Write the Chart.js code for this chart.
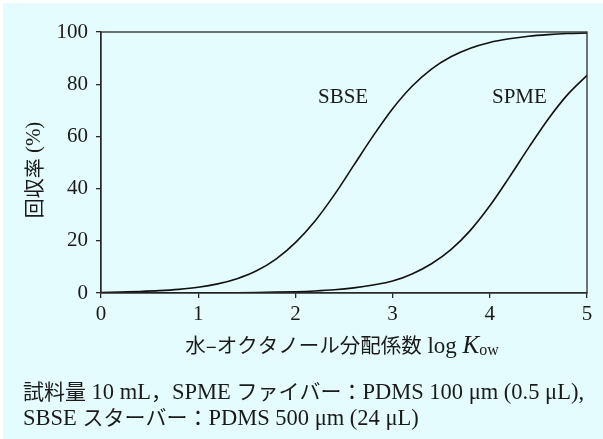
<!DOCTYPE html>
<html>
<head>
<meta charset="utf-8">
<script src="https://cdn.jsdelivr.net/npm/chart.js@4.4.0/dist/chart.umd.min.js"></script>
<style>
  html, body { margin: 0; padding: 0; background: #fff; }
  #wrap { width: 603px; height: 439px; }
</style>
</head>
<body>
<div id="wrap"><canvas id="chart" width="603" height="439"></canvas></div>
<script>
// log Kow values along the x axis
const logKow = [0, 0.2, 0.4, 0.6, 0.8, 1.0, 1.2, 1.4, 1.6, 1.8, 2.0, 2.2, 2.4,
                2.6, 2.8, 3.0, 3.2, 3.4, 3.6, 3.8, 4.0, 4.2, 4.4, 4.6, 4.8, 5.0];
// recovery (%)
const sbseRecovery = [0.2, 0.4, 0.6, 0.9, 1.4, 2.2, 3.5, 5.5, 8.5, 13, 19.3, 27.5, 37.6,
                      48.9, 60.2, 70.6, 79.2, 85.8, 90.5, 93.8, 96, 97.4, 98.4, 99, 99.4, 99.6];
const spmeRecovery = [0, 0, 0, 0, 0, 0.05, 0.08, 0.12, 0.2, 0.32, 0.5, 0.79, 1.24,
                      1.96, 3.07, 4.6, 7.3, 11.2, 16.6, 24, 33.4, 44.3, 55.7, 66.6, 76, 83.4];
const xTickStep = 1;
const yTickStep = 10;
const yLabelEvery = 20;

const serif = '"Liberation Serif", "DejaVu Serif", serif';
const cjk = '"Noto Sans CJK JP", sans-serif';
const ink = '#1a1a1a';
const cjkRe = /[\u2010-\u2015\u3000-\u30ff\u4e00-\u9fff\uff00-\uffef]/;

function toPoints(ys) {
    return logKow.map((x, i) => ({ x: x, y: ys[i] }));
}

// split text into latin / japanese runs so each gets its own font
function runs(text) {
    const out = [];
    for (const ch of text) {
        const isCjk = cjkRe.test(ch);
        const last = out[out.length - 1];
        if (last && last.cjk === isCjk) last.t += ch;
        else out.push({ t: ch, cjk: isCjk });
    }
    return out;
}

function mixedWidth(ctx, text, latinFont, cjkFont) {
    let w = 0;
    runs(text).forEach(r => {
        ctx.font = r.cjk ? cjkFont : latinFont;
        w += ctx.measureText(r.t).width;
    });
    return w;
}

function drawMixed(ctx, text, x, y, latinFont, cjkFont) {
    ctx.textAlign = 'left';
    runs(text).forEach(r => {
        ctx.font = r.cjk ? cjkFont : latinFont;
        ctx.fillText(r.t, x, y);
        x += ctx.measureText(r.t).width;
    });
    return x;
}

const decor = {
    id: 'decor',
    beforeDraw(chart) {
        const ctx = chart.ctx;
        ctx.save();
        ctx.fillStyle = '#e4fcfd';
        ctx.fillRect(3, 3, chart.width - 3, chart.height - 3);
        ctx.restore();
    },
    afterDraw(chart) {
        const ctx = chart.ctx;
        const a = chart.chartArea;
        ctx.save();
        // frame around the plot
        ctx.strokeStyle = '#2a2a2a';
        ctx.lineWidth = 1.3;
        ctx.strokeRect(a.left, a.top, a.right - a.left, a.bottom - a.top);

        ctx.fillStyle = ink;
        ctx.textBaseline = 'alphabetic';

        // curve labels
        ctx.font = '21px ' + serif;
        ctx.textAlign = 'left';
        ctx.fillText('SBSE', 318, 103);
        ctx.fillText('SPME', 492, 103);

        // x axis title with italic K and subscript
        const p1 = '水–オクタノール分配係数 log ';
        const latT = '23px ' + serif, cjkT = '20.5px ' + cjk;
        const w1 = mixedWidth(ctx, p1, latT, cjkT);
        ctx.font = 'italic 25px ' + serif;
        const w2 = ctx.measureText('K').width;
        ctx.font = '16px ' + serif;
        const w3 = ctx.measureText('ow').width;
        let x = 342 - (w1 + w2 + w3) / 2;
        const base = 353;
        x = drawMixed(ctx, p1, x, base, latT, cjkT);
        ctx.font = 'italic 25px ' + serif;
        ctx.fillText('K', x, base);
        x += w2;
        ctx.font = '16px ' + serif;
        ctx.fillText('ow', x, base + 2);

        // y axis title
        ctx.save();
        ctx.translate(34, 170);
        ctx.rotate(-Math.PI / 2);
        ctx.textBaseline = 'middle';
        const yt = '回収率 (%)';
        const latY = '21px ' + serif, cjkY = '20px ' + cjk;
        const wy = mixedWidth(ctx, yt, latY, cjkY);
        drawMixed(ctx, yt, -wy / 2, 0, latY, cjkY);
        ctx.restore();

        // caption
        ctx.textBaseline = 'alphabetic';
        const latC = '22.5px ' + serif, cjkC = '21px ' + cjk;
        drawMixed(ctx, '試料量 10 mL，SPME ファイバー：PDMS 100 μm (0.5 μL),', 23, 399, latC, cjkC);
        drawMixed(ctx, 'SBSE スターバー：PDMS 500 μm (24 μL)', 23, 425, latC, cjkC);
        ctx.restore();
    }
};

const ctx = document.getElementById('chart').getContext('2d');
const chart = new Chart(ctx, {
    type: 'line',
    data: {
        datasets: [
            {
                label: 'SBSE',
                data: toPoints(sbseRecovery),
                borderColor: '#111',
                borderWidth: 1.6,
                pointRadius: 0,
                cubicInterpolationMode: 'monotone',
                fill: false
            },
            {
                label: 'SPME',
                data: toPoints(spmeRecovery),
                borderColor: '#111',
                borderWidth: 1.6,
                pointRadius: 0,
                cubicInterpolationMode: 'monotone',
                fill: false
            }
        ]
    },
    options: {
        responsive: false,
        animation: false,
        layout: { padding: { top: 32, right: 16, left: 0, bottom: 0 } },
        plugins: {
            legend: { display: false },
            tooltip: { enabled: false }
        },
        scales: {
            x: {
                type: 'linear',
                min: 0,
                max: 5,
                ticks: {
                    stepSize: xTickStep,
                    color: ink,
                    padding: 4,
                    font: { family: serif, size: 21 }
                },
                grid: {
                    drawOnChartArea: false,
                    drawTicks: true,
                    tickLength: 5,
                    color: '#2a2a2a',
                    lineWidth: 1.3
                },
                border: { display: true, color: '#2a2a2a', width: 1.3 },
                afterFit: function(s) { s.height = 146; }
            },
            y: {
                min: 0,
                max: 100,
                ticks: {
                    stepSize: yTickStep,
                    color: ink,
                    padding: 8,
                    font: { family: serif, size: 21 },
                    callback: function(v) { return v % yLabelEvery === 0 ? v : ''; }
                },
                grid: {
                    drawOnChartArea: false,
                    drawTicks: true,
                    tickLength: 5,
                    color: '#2a2a2a',
                    lineWidth: 1.3
                },
                border: { display: true, color: '#2a2a2a', width: 1.3 },
                afterFit: function(s) { s.width = 101; }
            }
        }
    },
    plugins: [decor]
});
</script>
</body>
</html>
